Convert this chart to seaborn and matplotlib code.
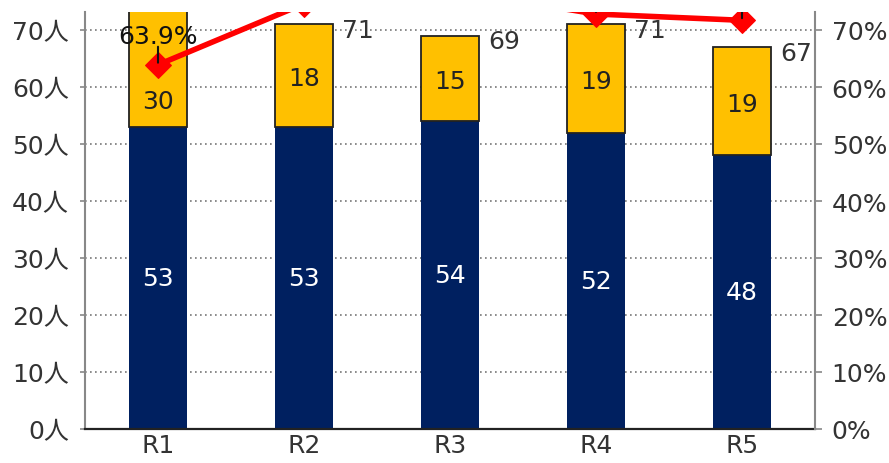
import numpy as np
import matplotlib
matplotlib.use('Agg')
import matplotlib.pyplot as plt
import seaborn as sns
from matplotlib.ticker import FixedLocator

# data
rounds = ['R1', 'R2', 'R3', 'R4', 'R5']
lower = [53, 53, 54, 52, 48]
upper = [30, 18, 15, 19, 19]
rate = [63.9, 74.6, 77.0, 72.8, 71.7]

navy = '#002060'
yellow = '#FFC000'
red = '#FF0000'

sns.set_style('white')
plt.rcParams['font.family'] = ['DejaVu Sans', 'Noto Sans CJK JP']

fig = plt.figure(figsize=(8.89, 4.64), dpi=100)
ax = fig.add_axes([85 / 889, 34 / 464, 730 / 889, 417 / 464])

x = np.arange(len(rounds))
totals = [a + b for a, b in zip(lower, upper)]
ymax = 417 / 5.7

# stacked bars
sns.barplot(x=rounds, y=lower, color=navy, width=0.4, ax=ax, saturation=1,
            linewidth=0, zorder=2)
ax.bar(x, upper, bottom=lower, width=0.4, color=yellow, edgecolor='#222222',
       linewidth=1.3, zorder=2)

ax.set_ylim(0, ymax)
ax.set_xlim(-0.5, 4.5)

# labels inside the bars and totals beside them
for i in range(len(rounds)):
    ax.text(x[i], lower[i] / 2, str(lower[i]), ha='center', va='center',
            color='white', fontsize=18, zorder=3)
    top = totals[i] if totals[i] < ymax else 63
    ax.annotate(str(upper[i]), (x[i], (lower[i] + top) / 2), xytext=(0, -2),
                textcoords='offset points', ha='center', va='center',
                color='#222222', fontsize=18, zorder=3)
    if totals[i] < ymax:
        ax.annotate(str(totals[i]), (x[i] + 0.26, totals[i]), xytext=(0, -4),
                    textcoords='offset points', ha='left', va='center',
                    color='#333333', fontsize=18, zorder=3)

# left axis
yt = list(range(0, 80, 10))
ax.set_yticks(yt)
ax.set_yticklabels([f'{v}人' for v in yt], fontsize=18, color='#333333')
ax.yaxis.grid(True, linestyle=(0, (1, 2)), color='#777777', linewidth=1.2)
ax.set_axisbelow(True)
ax.set_xticks(x)
ax.set_xticklabels(rounds, fontsize=18, color='#333333')
ax.xaxis.set_minor_locator(FixedLocator(np.arange(-0.5, 5, 1.0)))
ax.tick_params(axis='x', which='major', length=0, pad=3)
ax.tick_params(axis='x', which='minor', direction='in', length=5,
               width=1.3, color='#333333')
ax.tick_params(axis='y', direction='out', length=3.6, width=1.2,
               color='#888888', left=True, pad=8)
for s in ['top', 'right']:
    ax.spines[s].set_visible(False)
ax.spines['left'].set_color('#888888')
ax.spines['left'].set_linewidth(1.5)
ax.spines['bottom'].set_color('#222222')
ax.spines['bottom'].set_linewidth(1.6)
ax.set_xlabel('')
ax.set_ylabel('')

# right axis with the rate line
ax2 = ax.twinx()
sns.lineplot(x=x, y=rate, ax=ax2, color=red, linewidth=4, marker='D',
             markersize=13, markeredgecolor=red, zorder=4)
ax2.set_ylim(0, ymax)
ax2.set_yticks(yt)
ax2.set_yticklabels([f'{v}%' for v in yt], fontsize=18, color='#333333')
ax2.tick_params(axis='y', direction='out', length=5, width=1.2,
                color='#888888', right=True, pad=7)
for s in ['top', 'left', 'bottom']:
    ax2.spines[s].set_visible(False)
ax2.spines['right'].set_color('#888888')
ax2.spines['right'].set_linewidth(1.5)
ax2.set_ylabel('')

# leader ticks and rate labels (only those that fit inside the plot area)
for i in range(len(rounds)):
    lead = ax2.annotate('', (x[i], rate[i]), xytext=(0, 13),
                        textcoords='offset points', annotation_clip=False,
                        arrowprops=dict(arrowstyle='-', color='#111111',
                                        lw=1.5, shrinkA=0, shrinkB=1.5))
    lead.arrow_patch.set_clip_box(ax2.bbox)
    lead.set_zorder(5)
    if rate[i] + 28 / 5.7 + 2 < ymax:
        ax2.annotate(f'{rate[i]}%', (x[i], rate[i]), xytext=(0, 20.5),
                     textcoords='offset points', ha='center', va='center',
                     fontsize=18, color='#111111', zorder=5)

fig.savefig('out.png', dpi=100)
